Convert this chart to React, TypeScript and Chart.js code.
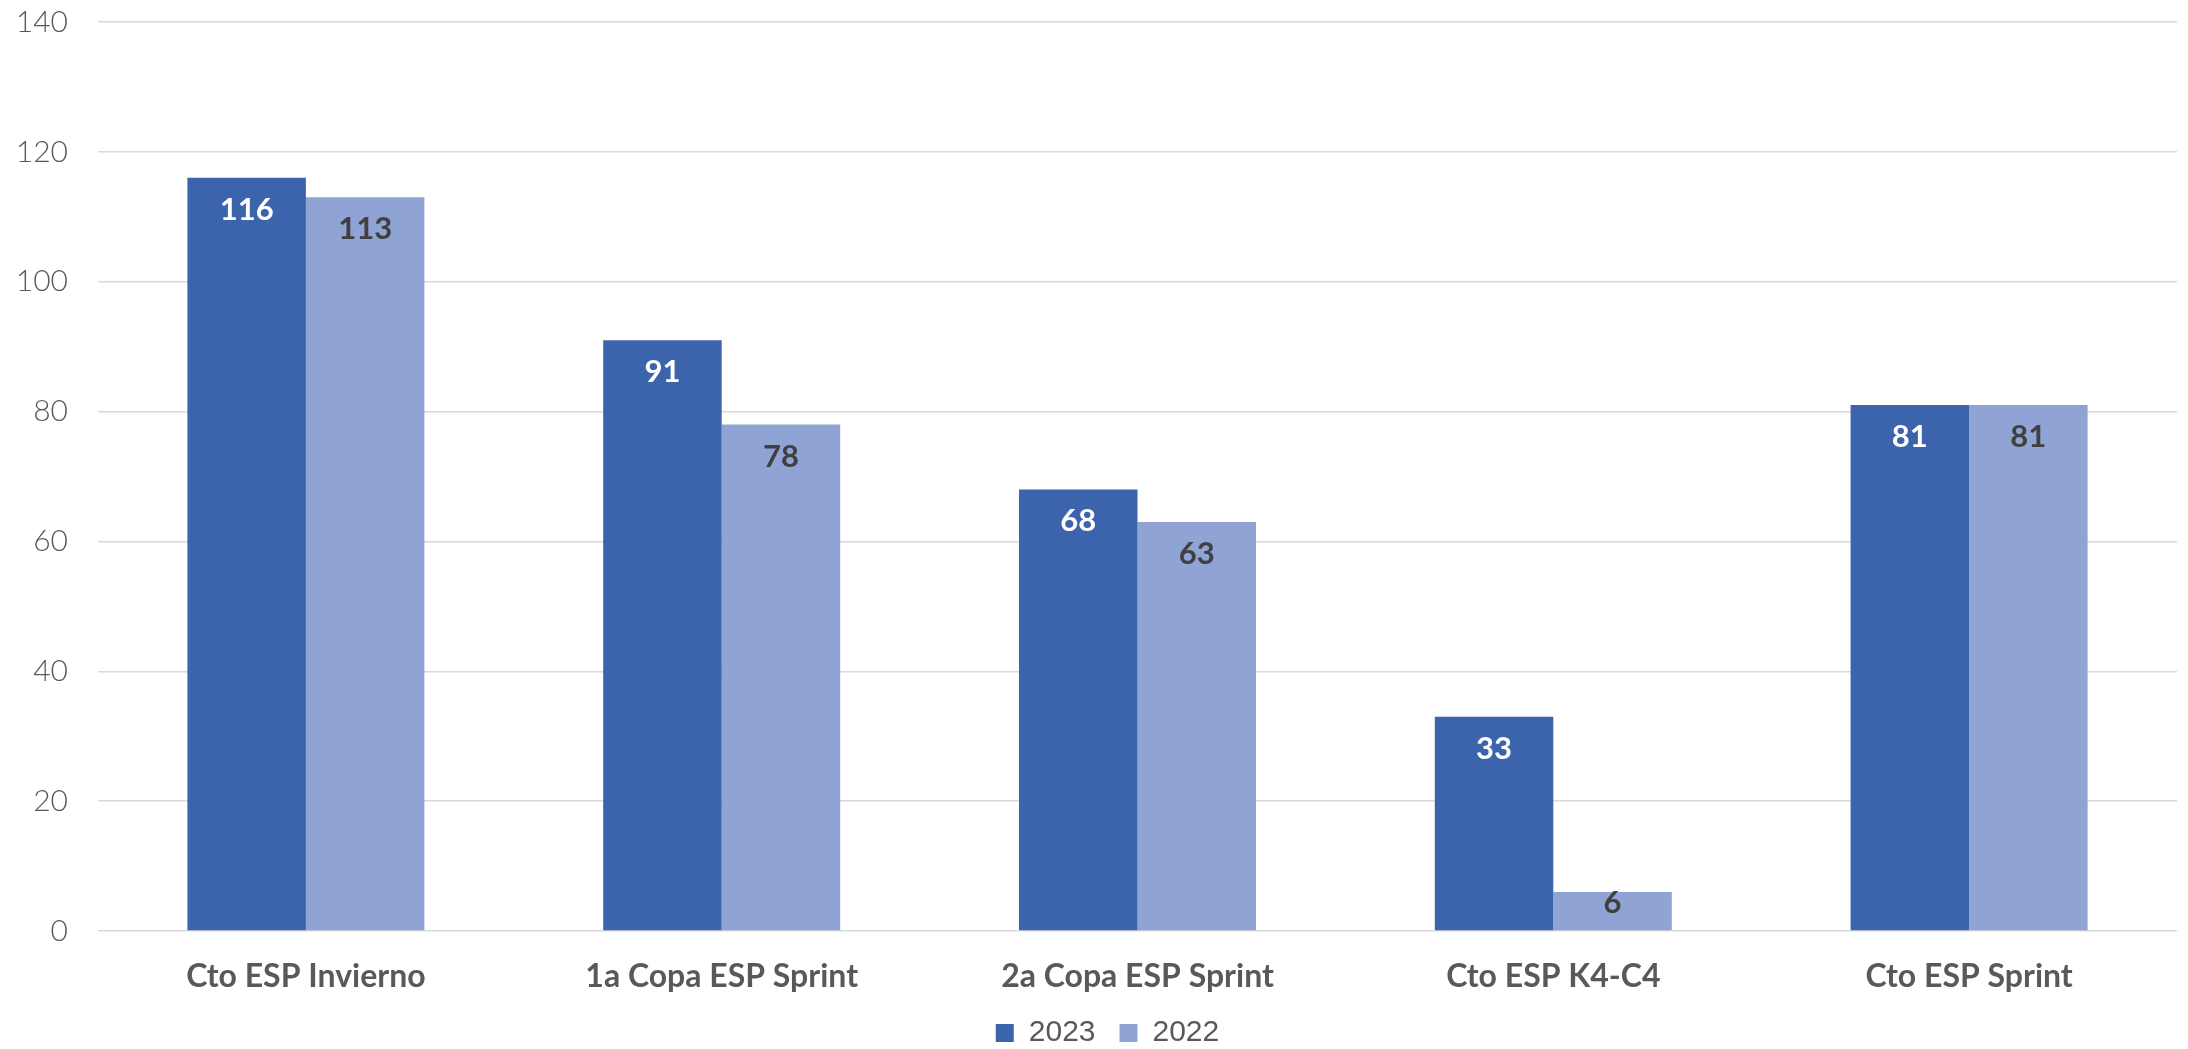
import React, { useEffect, useRef } from "react";
import { Chart, registerables } from "chart.js";

Chart.register(...registerables);

const categories = [
  "Cto ESP Invierno",
  "1a Copa ESP Sprint",
  "2a Copa ESP Sprint",
  "Cto ESP K4-C4",
  "Cto ESP Sprint",
];
const values2023 = [116, 91, 68, 33, 81];
const values2022 = [113, 78, 63, 6, 81];
const seriesLabels = ["2023", "2022"];
const yTicks = [0, 20, 40, 60, 80, 100, 120, 140];

const COLOR_2023 = "#3C64AC";
const COLOR_2022 = "#8FA3D4";
const TEXT = "#595959";

const dataLabelPlugin = {
  id: "dataLabels",
  afterDatasetsDraw(chart: any) {
    const ctx = chart.ctx;
    ctx.save();
    ctx.font = "bold 31px Lato, 'Noto Sans', sans-serif";
    ctx.textAlign = "center";
    ctx.textBaseline = "middle";
    chart.data.datasets.forEach((ds: any, di: number) => {
      const meta = chart.getDatasetMeta(di);
      ctx.fillStyle = di === 0 ? "#FFFFFF" : "#404040";
      meta.data.forEach((bar: any, i: number) => {
        const h = bar.base - bar.y;
        const off = h < 80 ? h * 0.28 : 32;
        ctx.fillText(String(ds.data[i]), bar.x, bar.y + off);
      });
    });
    ctx.restore();
  },
};

const layoutTweakPlugin = {
  id: "layoutTweak",
  afterLayout(chart: any) {
    if (chart.legend) {
      chart.legend.top += 9;
      chart.legend.bottom += 9;
      chart.legend.left += 19;
      chart.legend.right += 19;
    }
    const x = chart.scales.x;
    if (x) x.bottom += 20;
  },
};

export default function App() {
  const ref = useRef<HTMLCanvasElement | null>(null);
  useEffect(() => {
    if (!ref.current) return;
    const chart = new Chart(ref.current, {
      type: "bar",
      data: {
        labels: categories,
        datasets: [
          {
            label: seriesLabels[0],
            data: values2023,
            backgroundColor: COLOR_2023,
            borderWidth: 0,
            categoryPercentage: 0.57,
            barPercentage: 1.0,
          },
          {
            label: seriesLabels[1],
            data: values2022,
            backgroundColor: COLOR_2022,
            borderWidth: 0,
            categoryPercentage: 0.57,
            barPercentage: 1.0,
          },
        ],
      },
      options: {
        animation: false,
        responsive: false,
        devicePixelRatio: 1,
        layout: { padding: { left: 0, right: 11, top: 22, bottom: 0 } },
        plugins: {
          legend: {
            position: "bottom",
            labels: {
              boxWidth: 18,
              boxHeight: 18,
              padding: 24,
              color: TEXT,
              font: { size: 30, family: "'Liberation Sans', Arial, sans-serif" },
            },
          },
          tooltip: { enabled: false },
        },
        scales: {
          x: {
            grid: { display: false },
            border: { display: false },
            ticks: {
              color: TEXT,
              padding: 18,
              font: { size: 32, weight: "bold", family: "Lato, 'Noto Sans', sans-serif" },
            },
            afterFit(scale: any) {
              scale.height = 54;
            },
          },
          y: {
            min: 0,
            max: 140,
            afterBuildTicks(scale: any) {
              scale.ticks = yTicks.map((v) => ({ value: v }));
            },
            grid: { color: "#D9D9D9", lineWidth: 1.5, drawTicks: false },
            border: { display: false },
            ticks: {
              color: TEXT,
              padding: 30,
              font: { size: 30, weight: "300", family: "Lato, 'Noto Sans', sans-serif" },
            },
            afterFit(scale: any) {
              scale.width = 98;
              scale.paddingTop = 0;
              scale.paddingBottom = 0;
            },
          },
        },
      },
      plugins: [dataLabelPlugin, layoutTweakPlugin],
    });
    return () => chart.destroy();
  }, []);
  return (
    <div style={{ position: "absolute", left: 0, top: 0, width: 2188, height: 1049, background: "#fff" }}>
      <canvas ref={ref} width={2188} height={1049} />
    </div>
  );
}
